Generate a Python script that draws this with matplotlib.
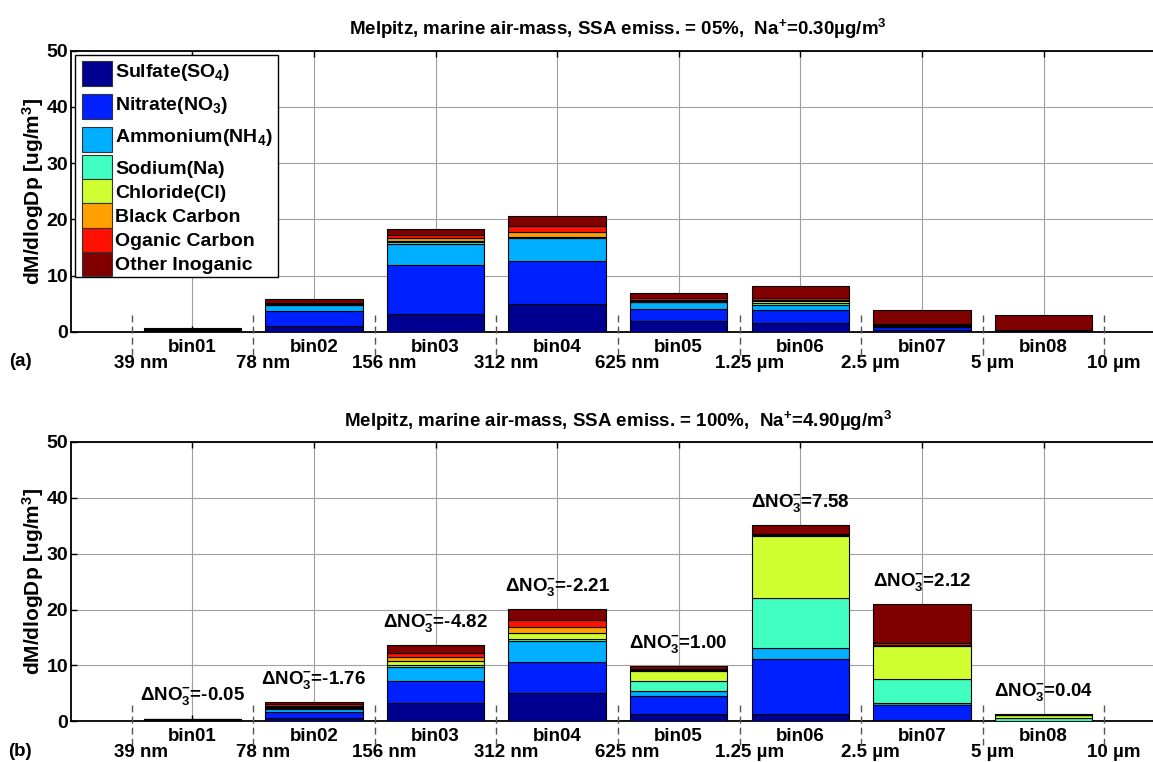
import matplotlib
matplotlib.use('Agg')
import matplotlib.pyplot as plt
from matplotlib.patches import Rectangle
import numpy as np

plt.rcParams['font.family'] = ['Liberation Sans', 'DejaVu Sans']
plt.rcParams['font.weight'] = 'bold'
plt.rcParams['mathtext.fontset'] = 'custom'
plt.rcParams['mathtext.rm'] = 'Liberation Sans:bold'
plt.rcParams['mathtext.it'] = 'Liberation Sans:bold'
plt.rcParams['mathtext.bf'] = 'Liberation Sans:bold'
plt.rcParams['mathtext.default'] = 'rm'

# ---------------- data ----------------
bins = ['bin01', 'bin02', 'bin03', 'bin04', 'bin05', 'bin06', 'bin07', 'bin08']
size_edges = ['39 nm', '78 nm', '156 nm', '312 nm', '625 nm',
              '1.25 \u00b5m', '2.5 \u00b5m', '5 \u00b5m', '10 \u00b5m']
species = ['Sulfate(SO$_4$)', 'Nitrate(NO$_3$)', 'Ammonium(NH$_4$)', 'Sodium(Na)',
           'Chloride(Cl)', 'Black Carbon', 'Oganic Carbon', 'Other Inoganic']
colors = ['#000090', '#0020FF', '#00AFFF', '#40FFC0',
          '#CFFF30', '#FFA000', '#FF1000', '#800000']

# panel (a): SSA emission 5 %
sulfate_a  = [0.15, 1.00, 3.15, 4.90, 1.85, 1.50, 0.35, 0.05]
nitrate_a  = [0.10, 2.70, 8.70, 7.70, 2.25, 2.30, 0.40, 0.10]
ammonium_a = [0.05, 1.05, 3.80, 4.10, 1.10, 0.90, 0.10, 0.02]
sodium_a   = [0.02, 0.05, 0.25, 0.10, 0.15, 0.45, 0.10, 0.05]
chloride_a = [0.02, 0.05, 0.30, 0.10, 0.15, 0.30, 0.10, 0.05]
bc_a       = [0.08, 0.10, 0.40, 0.80, 0.20, 0.20, 0.10, 0.03]
oc_a       = [0.10, 0.15, 0.60, 1.10, 0.30, 0.30, 0.20, 0.05]
other_a    = [0.10, 0.65, 1.00, 1.80, 0.95, 2.20, 2.45, 2.55]

# panel (b): SSA emission 100 %
sulfate_b  = [0.10, 0.60, 3.25, 5.05, 1.35, 1.35, 0.20, 0.02]
nitrate_b  = [0.08, 1.10, 4.00, 5.55, 3.10, 9.80, 2.70, 0.10]
ammonium_b = [0.05, 0.50, 2.45, 3.75, 0.90, 1.95, 0.35, 0.02]
sodium_b   = [0.03, 0.20, 0.30, 0.45, 1.80, 8.90, 4.35, 0.40]
chloride_b = [0.03, 0.20, 0.70, 0.95, 1.90, 11.20, 5.95, 0.50]
bc_b       = [0.06, 0.20, 0.75, 1.10, 0.15, 0.10, 0.10, 0.02]
oc_b       = [0.08, 0.25, 0.85, 1.30, 0.15, 0.20, 0.35, 0.04]
other_b    = [0.07, 0.40, 1.40, 1.90, 0.60, 1.55, 6.95, 0.20]

delta_no3_b = [-0.05, -1.76, -4.82, -2.21, 1.00, 7.58, 2.12, 0.04]

title_a = 'Melpitz, marine air-mass, SSA emiss. = 05%,  Na$^{+}$=0.30\u00b5g/m$^{3}$'
title_b = 'Melpitz, marine air-mass, SSA emiss. = 100%,  Na$^{+}$=4.90\u00b5g/m$^{3}$'

panel_a = [sulfate_a, nitrate_a, ammonium_a, sodium_a, chloride_a, bc_a, oc_a, other_a]
panel_b = [sulfate_b, nitrate_b, ammonium_b, sodium_b, chloride_b, bc_b, oc_b, other_b]

# ---------------- figure ----------------
W, H = 1153, 762
AX_L, AX_W = 70.7, 1094.4
A_BOT, A_H = 331.7, 281.0
B_BOT, B_H = 721.3, 279.5
fig = plt.figure(figsize=(W / 100, H / 100), dpi=100)
ax_a = fig.add_axes([AX_L / W, (H - A_BOT) / H, AX_W / W, A_H / H])
ax_b = fig.add_axes([AX_L / W, (H - B_BOT) / H, AX_W / W, B_H / H])

x = np.arange(1, len(bins) + 1)
edges = np.arange(0.5, len(bins) + 1.0, 1.0)
FS = 13.5
FT = 14


def draw_panel(ax, data, title):
    bottom = np.zeros(len(bins))
    for vals, col, lab in zip(data, colors, species):
        ax.bar(x, vals, width=0.8, bottom=bottom, color=col, edgecolor='black',
               linewidth=0.8, label=lab, zorder=3)
        bottom = bottom + np.array(vals)
    ax.set_xlim(0, 9)
    ax.set_ylim(0, 50)
    ax.set_yticks([0, 10, 20, 30, 40, 50])
    ax.set_xticks(x)
    ax.set_xticklabels(bins, fontsize=FS, fontweight='bold')
    ax.tick_params(axis='both', direction='in', length=4, width=1, top=True,
                   pad=2, color='black')
    ax.tick_params(axis='y', labelsize=FT)
    ax.tick_params(axis='x', pad=5, labelsize=FS)
    for t in ax.get_yticklabels():
        t.set_fontweight('bold')
    ax.grid(True, color='#a0a0a0', linewidth=0.8, zorder=0)
    ax.set_axisbelow(True)
    for s in ['left', 'bottom', 'top']:
        ax.spines[s].set_linewidth(1.3)
    ax.spines['right'].set_visible(False)
    ax.set_ylabel('dM/dlogDp [ug/m$^{3}$]', fontsize=15, fontweight='bold')
    ax.yaxis.set_label_coords((46 - AX_L) / AX_W, 0.5)
    ax.set_title(title, fontsize=FS, fontweight='bold', pad=11)
    # dashed bin boundaries
    for e in edges:
        ax.plot([e, e], [3.0, -4.3], linestyle=(0, (5, 3)), color='#555555',
                linewidth=1.0, clip_on=False, zorder=4)
    for e, lab in zip(edges, size_edges):
        ax.text(e + 0.08, -0.112, lab, transform=ax.get_xaxis_transform(),
                ha='center', va='center', fontsize=FS, fontweight='bold')
    return bottom


draw_panel(ax_a, panel_a, title_a)
tot_b = draw_panel(ax_b, panel_b, title_b)

# annotations (b)
for xi, top, d in zip(x, tot_b, delta_no3_b):
    ax_b.annotate('\u0394NO$_{3}^{-}$=%.2f' % d, xy=(xi, top), xytext=(0, 13),
                  textcoords='offset points', ha='center', va='baseline',
                  fontsize=FS, fontweight='bold', zorder=5)


# legend (a), laid out like the MATLAB legend (rows with subscripts are taller)
def pa(px, py):
    return (px - AX_L) / AX_W, (A_BOT - py) / A_H


frame_x0, frame_y0 = pa(75, 277)
frame_x1, frame_y1 = pa(278, 55)
ax_a.add_patch(Rectangle((frame_x0, frame_y0), frame_x1 - frame_x0, frame_y1 - frame_y0,
                         transform=ax_a.transAxes, facecolor='white', edgecolor='black',
                         linewidth=1.0, clip_on=False, zorder=10))
row_tops = [61, 94, 126.7, 155, 179, 203, 228, 252]
row_bots = [86, 119, 151.7, 179, 202.5, 227.5, 251.5, 276]
row_base = [77.3, 110, 141.7, 174.5, 197.5, 222, 246, 270.5]
for col, lab, t, b, bl in zip(colors, species, row_tops, row_bots, row_base):
    x0, y0 = pa(81.7, b)
    x1, y1 = pa(111.7, t)
    ax_a.add_patch(Rectangle((x0, y0), x1 - x0, y1 - y0, transform=ax_a.transAxes,
                             facecolor=col, edgecolor='#333333', linewidth=0.8,
                             clip_on=False, zorder=11))
    tx, ty = pa(115, bl)
    ax_a.text(tx, ty, lab, transform=ax_a.transAxes, ha='left', va='baseline',
              fontsize=FT, fontweight='bold', zorder=12)

fig.text(20 / W, 1 - 362 / H, '(a)', fontsize=FS, fontweight='bold', ha='center', va='center')
fig.text(20 / W, 1 - 752 / H, '(b)', fontsize=FS, fontweight='bold', ha='center', va='center')

fig.savefig('out.png', dpi=100)
